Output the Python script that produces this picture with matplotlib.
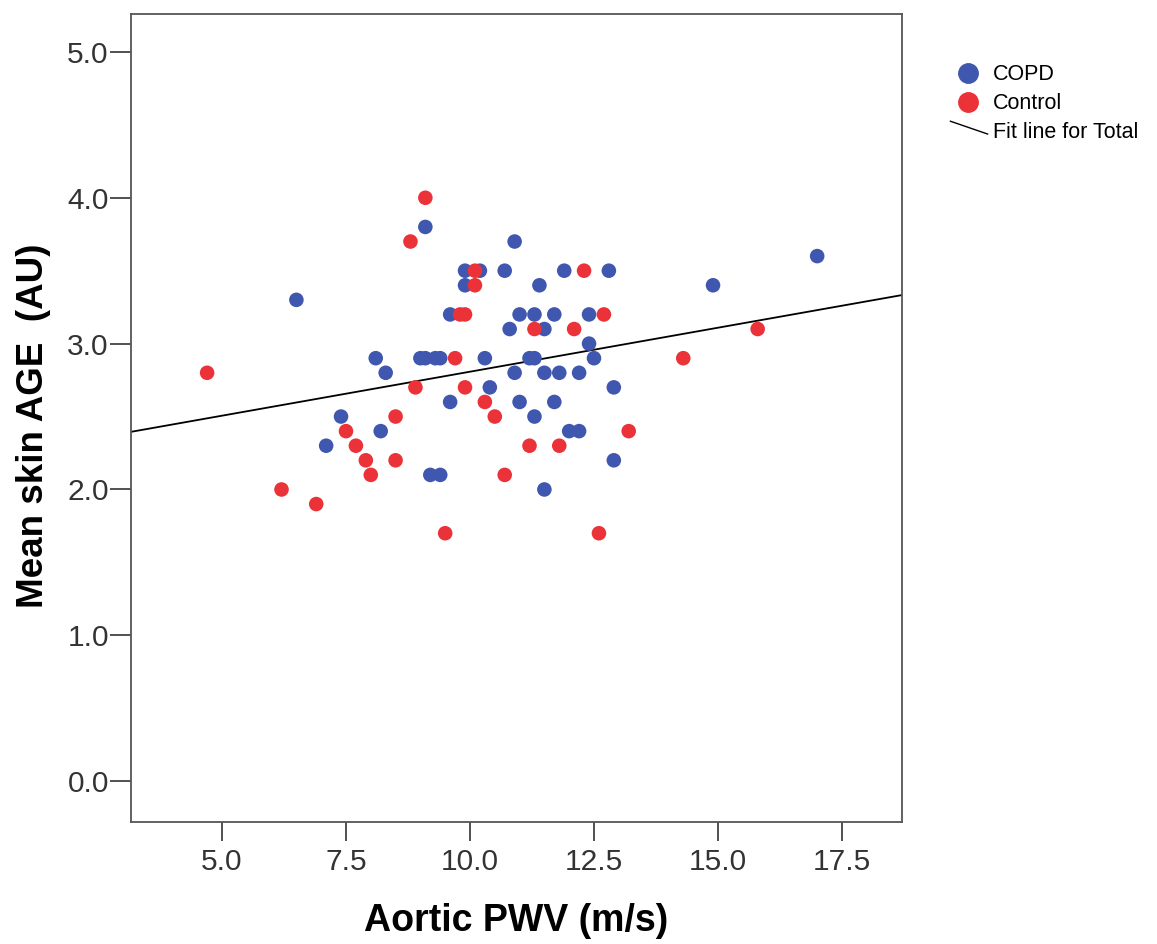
import numpy as np
import matplotlib.pyplot as plt
from matplotlib.lines import Line2D
from matplotlib.legend_handler import HandlerBase

plt.rcParams['font.family'] = ['Liberation Sans', 'DejaVu Sans']

# COPD group
copd_pwv = [6.5, 7.1, 7.4, 8.1, 8.2, 8.3, 9.0, 9.1, 9.1, 9.2, 9.3, 9.4, 9.4,
            9.6, 9.6, 9.9, 9.9, 10.2, 10.3, 10.4, 10.7, 10.8, 10.9, 10.9,
            11.0, 11.0, 11.2, 11.3, 11.3, 11.3, 11.4, 11.5, 11.5, 11.5, 11.7,
            11.7, 11.8, 11.9, 12.0, 12.2, 12.2, 12.4, 12.4, 12.5, 12.8, 12.9,
            12.9, 14.9, 17.0]
copd_age = [3.3, 2.3, 2.5, 2.9, 2.4, 2.8, 2.9, 3.8, 2.9, 2.1, 2.9, 2.9, 2.1,
            3.2, 2.6, 3.5, 3.4, 3.5, 2.9, 2.7, 3.5, 3.1, 3.7, 2.8,
            3.2, 2.6, 2.9, 3.2, 2.9, 2.5, 3.4, 3.1, 2.8, 2.0, 3.2,
            2.6, 2.8, 3.5, 2.4, 2.8, 2.4, 3.2, 3.0, 2.9, 3.5, 2.7,
            2.2, 3.4, 3.6]

# Control group
ctrl_pwv = [4.7, 6.2, 6.9, 7.5, 7.7, 7.9, 8.0, 8.5, 8.5, 8.8, 8.9, 9.1, 9.5,
            9.7, 9.8, 9.9, 9.9, 10.1, 10.1, 10.3, 10.5, 10.7, 11.2, 11.3,
            11.8, 12.1, 12.3, 12.6, 12.7, 13.2, 14.3, 15.8]
ctrl_age = [2.8, 2.0, 1.9, 2.4, 2.3, 2.2, 2.1, 2.5, 2.2, 3.7, 2.7, 4.0, 1.7,
            2.9, 3.2, 3.2, 2.7, 3.5, 3.4, 2.6, 2.5, 2.1, 2.3, 3.1,
            2.3, 3.1, 3.5, 1.7, 3.2, 2.4, 2.9, 3.1]

xtick_vals = [5.0, 7.5, 10.0, 12.5, 15.0, 17.5]
ytick_vals = [0.0, 1.0, 2.0, 3.0, 4.0, 5.0]

blue = '#3F57AE'
red = '#EA3238'

fig = plt.figure(figsize=(11.57, 9.44), dpi=100)
ax = fig.add_axes([0.1132, 0.1292, 0.6664, 0.856])

ax.scatter(copd_pwv, copd_age, s=110, color=blue, edgecolors='none', zorder=3)
ax.scatter(ctrl_pwv, ctrl_age, s=110, color=red, edgecolors='none', zorder=3)

# fit line for total
all_x = np.array(copd_pwv + ctrl_pwv)
all_y = np.array(copd_age + ctrl_age)
slope, icpt = np.polyfit(all_x, all_y, 1)
xl = np.array([3.165, 18.71])
ax.plot(xl, icpt + slope * xl, color='black', lw=1.3, zorder=2)

ax.set_xlim(3.165, 18.71)
ax.set_ylim(-0.28, 5.26)
ax.set_xticks(xtick_vals)
ax.set_xticklabels([f'{v:.1f}' for v in xtick_vals])
ax.set_yticks(ytick_vals)
ax.set_yticklabels([f'{v:.1f}' for v in ytick_vals])
ax.tick_params(direction='out', width=1.2, labelsize=21.5,
               labelcolor='#333333', color='#333333')
ax.tick_params(axis='x', length=14, pad=5)
ax.tick_params(axis='y', length=15, pad=1)
for s in ax.spines.values():
    s.set_color('#555555')
    s.set_linewidth(1.3)

ax.set_xlabel('Aortic PWV (m/s)', fontsize=27, fontweight='bold', labelpad=19)
ax.set_ylabel('Mean skin AGE  (AU)', fontsize=26.5, fontweight='bold')
ax.yaxis.set_label_coords(-0.126, 0.491)
ax.yaxis.label.set_verticalalignment('center')


class DiagHandler(HandlerBase):
    def create_artists(self, legend, orig_handle, xdescent, ydescent,
                       width, height, fontsize, trans):
        ln = Line2D([0, width + 2], [height * 1.1, height * 0.25],
                    color='black', lw=1, transform=trans)
        return [ln]


handles = [
    Line2D([], [], marker='o', ls='none', color=blue, markersize=14),
    Line2D([], [], marker='o', ls='none', color=red, markersize=14),
    Line2D([], [], color='black'),
]
leg = fig.legend(handles, ['COPD', 'Control', 'Fit line for Total'],
                 loc='upper left', bbox_to_anchor=(0.814, 0.941),
                 frameon=False, fontsize=15.5, handlelength=1.6,
                 handletextpad=0.38, labelspacing=0.36, borderaxespad=0,
                 handler_map={handles[2]: DiagHandler()})

fig.savefig('out.png', dpi=100)
